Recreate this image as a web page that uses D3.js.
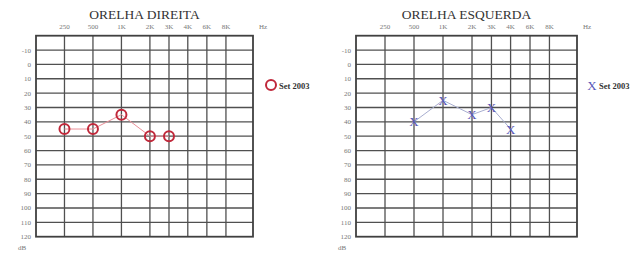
<!DOCTYPE html>
<html><head><meta charset="utf-8">
<script src="https://cdn.jsdelivr.net/npm/d3@7"></script>
<style>body{margin:0;background:#fff}svg{display:block}</style>
</head><body>
<svg id="c" width="642" height="258"></svg>
<script>
// ---- data ----
const freqs = [250, 500, 1000, 2000, 3000, 4000, 6000, 8000];
const freqLabels = ["250", "500", "1K", "2K", "3K", "4K", "6K", "8K"];
const dbTicks = [-10, 0, 10, 20, 30, 40, 50, 60, 70, 80, 90, 100, 110, 120];
const rightEarFreqs = [250, 500, 1000, 2000, 3000];
const rightEarDb = [45, 45, 35, 50, 50];
const leftEarFreqs = [500, 1000, 2000, 3000, 4000];
const leftEarDb = [40, 25, 35, 30, 45];
const legendLabel = "Set 2003";

// ---- layout (audiogram column slots: octaves wide, half-octaves narrow) ----
const slots = [1, 2, 3, 4, 4.67, 5.33, 6, 6.67];
const slotMax = 7.62;
const svg = d3.select("#c");
const serif = "'Liberation Serif','DejaVu Serif',serif";

function audiogram(cfg) {
  const g = svg.append("g");
  const slotScale = d3.scaleLinear().domain([0, slotMax]).range([cfg.x0, cfg.x1]);
  const fx = d3.scaleOrdinal().domain(freqs).range(slots.map(s => slotScale(s)));
  const y = d3.scaleLinear().domain([-20, 120]).range([cfg.y0, cfg.y1]);

  // grid
  const hLines = d3.range(-10, 120, 10);
  g.selectAll("line.h").data(hLines).enter().append("line")
    .attr("x1", cfg.x0).attr("x2", cfg.x1)
    .attr("y1", d => y(d)).attr("y2", d => y(d))
    .attr("stroke", "#505050").attr("stroke-width", 1.3);
  g.selectAll("line.v").data(freqs).enter().append("line")
    .attr("x1", d => fx(d)).attr("x2", d => fx(d))
    .attr("y1", cfg.y0).attr("y2", cfg.y1)
    .attr("stroke", "#505050").attr("stroke-width", 1.3);
  g.append("rect").attr("x", cfg.x0).attr("y", cfg.y0)
    .attr("width", cfg.x1 - cfg.x0).attr("height", cfg.y1 - cfg.y0)
    .attr("fill", "none").attr("stroke", "#404040").attr("stroke-width", 1.8);

  // title
  g.append("text").attr("x", (cfg.x0 + cfg.x1) / 2).attr("y", 19)
    .attr("text-anchor", "middle").attr("font-family", serif)
    .attr("font-size", 13.5).attr("fill", "#333").text(cfg.title);

  // frequency labels
  g.selectAll("text.f").data(freqs).enter().append("text")
    .attr("x", d => fx(d)).attr("y", 29).attr("text-anchor", "middle")
    .attr("font-family", serif).attr("font-size", 7).attr("fill", "#777")
    .text((d, i) => freqLabels[i]);
  g.append("text").attr("x", cfg.x1 + 10).attr("y", 29).attr("text-anchor", "middle")
    .attr("font-family", serif).attr("font-size", 7).attr("fill", "#777").text("Hz");

  // dB labels
  g.selectAll("text.d").data(dbTicks).enter().append("text")
    .attr("x", cfg.x0 - 5).attr("y", d => y(d) + 2.5).attr("text-anchor", "end")
    .attr("font-family", serif).attr("font-size", 7).attr("fill", "#777")
    .text(d => d);
  g.append("text").attr("x", cfg.x0 - 14).attr("y", cfg.y1 + 13).attr("text-anchor", "middle")
    .attr("font-family", serif).attr("font-size", 7).attr("fill", "#777").text("dB");

  // series
  const pts = cfg.fs.map((f, i) => [fx(f), y(cfg.db[i])]);
  g.append("path").attr("d", d3.line()(pts)).attr("fill", "none")
    .attr("stroke", cfg.lineColor).attr("stroke-width", 1);
  if (cfg.marker === "O") {
    g.selectAll("circle.m").data(pts).enter().append("circle")
      .attr("cx", d => d[0]).attr("cy", d => d[1]).attr("r", 5)
      .attr("fill", "none").attr("stroke", cfg.color).attr("stroke-width", 2);
    g.append("circle").attr("cx", cfg.x1 + 18).attr("cy", 85).attr("r", 5)
      .attr("fill", "none").attr("stroke", cfg.color).attr("stroke-width", 2);
  } else {
    g.selectAll("text.m").data(pts).enter().append("text")
      .attr("x", d => d[0]).attr("y", d => d[1] + 4.5).attr("text-anchor", "middle")
      .attr("font-family", serif).attr("font-size", 13).attr("fill", cfg.color).text("X");
    g.append("text").attr("x", cfg.x1 + 15).attr("y", 89.5).attr("text-anchor", "middle")
      .attr("font-family", serif).attr("font-size", 13).attr("fill", cfg.color).text("X");
  }
  g.append("text").attr("x", cfg.x1 + (cfg.marker === "O" ? 26 : 22)).attr("y", 88.5)
    .attr("font-family", serif).attr("font-size", 8.5).attr("font-weight", "bold")
    .attr("fill", "#333").text(legendLabel);
}

audiogram({title: "ORELHA DIREITA", x0: 36, x1: 253, y0: 35.7, y1: 236.7,
  fs: rightEarFreqs, db: rightEarDb, marker: "O", color: "#c0283a", lineColor: "#eb8f98"});
audiogram({title: "ORELHA ESQUERDA", x0: 356, x1: 577, y0: 35.7, y1: 236.7,
  fs: leftEarFreqs, db: leftEarDb, marker: "X", color: "#5858b8", lineColor: "#a8aed0"});
</script>
</body></html>
